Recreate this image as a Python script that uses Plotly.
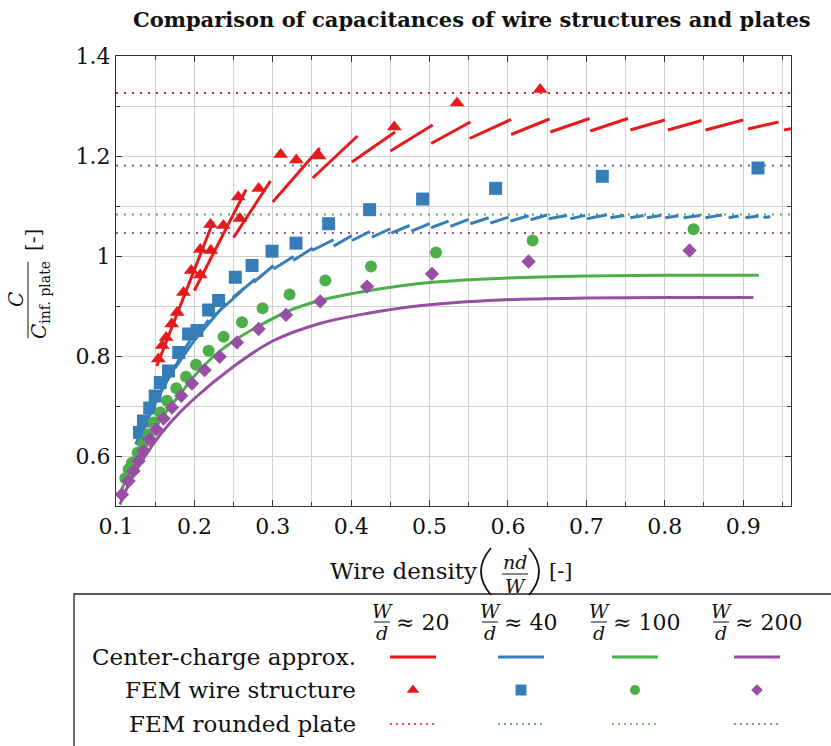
import plotly.graph_objects as go

W, H = 831, 746
FONT = "DejaVu Serif"

RED, BLUE, GREEN, PURPLE = "#e41a1c", "#377eb8", "#4daf4a", "#984ea3"

# ---------------- data ----------------
# FEM rounded plate (horizontal reference levels)
plate_levels = [1.326, 1.181, 1.083, 1.046]

# Center-charge approx, W/d ~ 20 : segments (start x, start y, end x, end y)
red_x0 = [0.152, 0.200, 0.250, 0.300, 0.351, 0.401, 0.450, 0.502, 0.551, 0.604, 0.654, 0.705, 0.756, 0.804, 0.852, 0.906, 0.952]
red_y0 = [0.780, 0.931, 1.037, 1.108, 1.156, 1.188, 1.210, 1.225, 1.235, 1.243, 1.248, 1.250, 1.252, 1.252, 1.252, 1.254, 1.252]
red_x1 = [0.224, 0.266, 0.297, 0.360, 0.408, 0.456, 0.504, 0.552, 0.604, 0.653, 0.704, 0.753, 0.800, 0.847, 0.900, 0.945, 0.990]
red_y1 = [1.069, 1.133, 1.150, 1.216, 1.240, 1.248, 1.262, 1.268, 1.273, 1.274, 1.275, 1.275, 1.272, 1.271, 1.272, 1.268, 1.262]

# Center-charge approx, W/d ~ 40 : segments
blue_x0 = [0.125, 0.150, 0.175, 0.200, 0.2225, 0.249, 0.2755, 0.301, 0.326, 0.350, 0.3776, 0.401, 0.4265, 0.451,
           0.4767, 0.5018, 0.5264, 0.552, 0.5774, 0.603, 0.6289, 0.6518, 0.6795, 0.7008, 0.7305, 0.756, 0.7773,
           0.8006, 0.824, 0.8517, 0.8814, 0.9027, 0.926]
blue_y0 = [0.623, 0.708, 0.775, 0.832, 0.877, 0.917, 0.9475, 0.974, 0.991, 1.011, 1.0197, 1.031, 1.0377, 1.0457,
           1.0497, 1.0565, 1.0592, 1.0646, 1.0658, 1.0698, 1.0726, 1.0746, 1.0746, 1.0746, 1.0766, 1.0766, 1.0766,
           1.0766, 1.0766, 1.0766, 1.0766, 1.0766, 1.0772]
blue_x1 = [0.170, 0.195, 0.218, 0.240, 0.261, 0.278, 0.301, 0.3265, 0.351, 0.3776, 0.401, 0.424, 0.450, 0.4745,
           0.500, 0.5243, 0.5498, 0.5753, 0.6008, 0.6263, 0.6497, 0.6752, 0.6986, 0.7263, 0.7483, 0.773, 0.7952,
           0.8176, 0.8453, 0.873, 0.8942, 0.9197, 0.9346]
blue_y1 = [0.770, 0.833, 0.872, 0.905, 0.931, 0.954, 0.981, 0.999, 1.016, 1.0325, 1.041, 1.049, 1.0545, 1.061,
           1.0646, 1.0698, 1.0732, 1.0766, 1.0779, 1.0806, 1.0819, 1.0812, 1.0812, 1.0826, 1.0812, 1.0812, 1.0812,
           1.0806, 1.0812, 1.0819, 1.0799, 1.0799, 1.0786]

# Center-charge approx, W/d ~ 100 and ~ 200 (visually continuous)
green_cc_x = [0.105, 0.12, 0.14, 0.16, 0.18, 0.20, 0.225, 0.25, 0.28, 0.32, 0.36, 0.42, 0.50, 0.60, 0.70, 0.80, 0.92]
green_cc_y = [0.525, 0.575, 0.630, 0.680, 0.720, 0.760, 0.800, 0.830, 0.858, 0.890, 0.911, 0.930, 0.947, 0.956, 0.960, 0.9615, 0.9615]
purple_cc_x = [0.105, 0.12, 0.148, 0.17, 0.20, 0.25, 0.30, 0.36, 0.42, 0.49, 0.59, 0.70, 0.80, 0.913]
purple_cc_y = [0.503, 0.555, 0.625, 0.668, 0.715, 0.779, 0.830, 0.865, 0.885, 0.901, 0.912, 0.916, 0.917, 0.917]

# FEM wire structure
red_fem_x = [0.154, 0.159, 0.164, 0.171, 0.178, 0.186, 0.196, 0.2075, 0.2205, 0.2075, 0.221, 0.237, 0.256, 0.258,
             0.282, 0.310, 0.330, 0.359, 0.455, 0.535, 0.641]
red_fem_y = [0.794, 0.821, 0.837, 0.864, 0.887, 0.927, 0.971, 1.013, 1.063, 0.962, 1.011, 1.061, 1.118, 1.075,
             1.135, 1.203, 1.192, 1.200, 1.258, 1.306, 1.333]
blue_fem_x = [0.130, 0.135, 0.143, 0.150, 0.1565, 0.167, 0.180, 0.1926, 0.2033, 0.2181, 0.2309, 0.2522, 0.2735,
              0.299, 0.3296, 0.3712, 0.4235, 0.4911, 0.5842, 0.7203, 0.9189]
blue_fem_y = [0.647, 0.670, 0.696, 0.720, 0.747, 0.770, 0.807, 0.844, 0.851, 0.892, 0.911, 0.9575, 0.981,
              1.0096, 1.0257, 1.0646, 1.0926, 1.1139, 1.1353, 1.1594, 1.176]
green_fem_x = [0.1119, 0.1161, 0.1204, 0.1276, 0.1344, 0.1416, 0.148, 0.1565, 0.165, 0.1769, 0.1893, 0.202, 0.2181,
               0.2373, 0.2607, 0.287, 0.3214, 0.367, 0.4252, 0.5082, 0.6314, 0.8367]
green_fem_y = [0.5553, 0.5733, 0.5866, 0.6066, 0.6247, 0.6435, 0.6668, 0.6868, 0.7103, 0.7357, 0.7584, 0.7825, 0.8105,
               0.8386, 0.8673, 0.8954, 0.9228, 0.951, 0.979, 1.007, 1.031, 1.0537]
purple_fem_x = [0.1076, 0.1161, 0.1224, 0.1288, 0.1352, 0.1429, 0.1514, 0.1607, 0.1714, 0.1833, 0.1969, 0.213, 0.2322,
                0.2543, 0.2819, 0.3168, 0.3606, 0.4202, 0.5031, 0.6263, 0.8316]
purple_fem_y = [0.523, 0.5499, 0.570, 0.590, 0.610, 0.6335, 0.6535, 0.6748, 0.6968, 0.7203, 0.745, 0.7718, 0.7985,
                0.8272, 0.854, 0.8821, 0.9094, 0.9388, 0.9643, 0.989, 1.011]

x_ticks = [0.1, 0.2, 0.3, 0.4, 0.5, 0.6, 0.7, 0.8, 0.9]
x_ticktext = ["0.1", "0.2", "0.3", "0.4", "0.5", "0.6", "0.7", "0.8", "0.9"]
y_ticks = [0.6, 0.8, 1.0, 1.2, 1.4]
y_ticktext = ["0.6", "0.8", "1", "1.2", "1.4"]
X_RANGE = [0.1, 0.961]
Y_RANGE = [0.5, 1.4]

ratios = ["20", "40", "100", "200"]
row_labels = ["Center-charge approx.", "FEM wire structure", "FEM rounded plate"]
colors = [RED, BLUE, GREEN, PURPLE]
symbols = ["triangle-up", "square", "circle", "diamond"]
msizes = [13, 13, 12, 11]

# ---------------- helpers ----------------
def px(x):
    return x / W

def py(y):
    return 1 - y / H

def segs(x0, y0, x1, y1):
    xs, ys = [], []
    for a, b, c, d in zip(x0, y0, x1, y1):
        xs += [a, c, None]
        ys += [b, d, None]
    return xs, ys

fig = go.Figure()

# plate reference lines
for lvl, c in zip(plate_levels, colors):
    fig.add_trace(go.Scatter(x=X_RANGE, y=[lvl, lvl], mode="lines",
                             line=dict(color=c, width=2, dash="2px,6px"), hoverinfo="skip"))

# center-charge approximations
rx, ry = segs(red_x0, red_y0, red_x1, red_y1)
bx, by = segs(blue_x0, blue_y0, blue_x1, blue_y1)
fig.add_trace(go.Scatter(x=rx, y=ry, mode="lines", line=dict(color=RED, width=3)))
fig.add_trace(go.Scatter(x=bx, y=by, mode="lines", line=dict(color=BLUE, width=3)))
fig.add_trace(go.Scatter(x=green_cc_x, y=green_cc_y, mode="lines", line=dict(color=GREEN, width=3, shape="spline")))
fig.add_trace(go.Scatter(x=purple_cc_x, y=purple_cc_y, mode="lines", line=dict(color=PURPLE, width=3, shape="spline")))

# FEM wire structure markers
for xs, ys, c, s, m in zip([red_fem_x, blue_fem_x, green_fem_x, purple_fem_x],
                           [red_fem_y, blue_fem_y, green_fem_y, purple_fem_y],
                           colors, symbols, msizes):
    fig.add_trace(go.Scatter(x=xs, y=ys, mode="markers",
                             marker=dict(color=c, symbol=s, size=m, line=dict(width=0))))

# ---------------- custom legend (drawn on a pixel-unit helper axis) ----------------
ROW_Y = [657, 690, 724]
COL_X = [413, 521, 635, 757]
HALF = 23
for c, s, m, cx in zip(colors, symbols, msizes, COL_X):
    fig.add_trace(go.Scatter(x=[cx - HALF, cx + HALF], y=[ROW_Y[0]] * 2, mode="lines",
                             line=dict(color=c, width=3), xaxis="x2", yaxis="y2"))
    fig.add_trace(go.Scatter(x=[cx], y=[ROW_Y[1]], mode="markers",
                             marker=dict(color=c, symbol=s, size=m - 2), xaxis="x2", yaxis="y2"))
    fig.add_trace(go.Scatter(x=[cx - HALF, cx + HALF], y=[ROW_Y[2]] * 2, mode="lines",
                             line=dict(color=c, width=1.6, dash="2px,4px"), xaxis="x2", yaxis="y2"))

annotations = []
shapes = []

def ann(x, y, text, size, xanchor="center", angle=0, family=FONT, color="#111"):
    annotations.append(dict(x=px(x), y=py(y), xref="paper", yref="paper", text=text, showarrow=False,
                            xanchor=xanchor, yanchor="middle", textangle=angle,
                            font=dict(family=family, size=size, color=color)))

def hline(x0, x1, y, w=1.2, color="#111"):
    shapes.append(dict(type="line", xref="paper", yref="paper", x0=px(x0), x1=px(x1), y0=py(y), y1=py(y),
                       line=dict(color=color, width=w)))

def paren(xe, xm, y0, y1, w=1.7, color="#111"):
    ym = (y0 + y1) / 2
    path = "M {:.5f},{:.5f} Q {:.5f},{:.5f} {:.5f},{:.5f}".format(px(xe), py(y0), px(xm), py(ym), px(xe), py(y1))
    shapes.append(dict(type="path", xref="paper", yref="paper", path=path, line=dict(color=color, width=w)))

# legend row labels
for lab, yy in zip(row_labels, ROW_Y):
    ann(358, yy, lab, 23, xanchor="right")

# legend column headers  W/d ~ N
FRAC_X = [382, 490, 599, 721]
for fx, r in zip(FRAC_X, ratios):
    ann(fx, 611, "<i>W</i>", 19)
    hline(fx - 8, fx + 8, 622, w=1)
    ann(fx, 633, "<i>d</i>", 19)
    ann(fx + 12, 622, "\u2248 " + r, 22, xanchor="left")

# legend frame
shapes.append(dict(type="rect", xref="paper", yref="paper", x0=px(74), x1=px(860), y0=py(770), y1=py(594),
                   line=dict(color="#222", width=1.3), fillcolor="rgba(0,0,0,0)"))

# title
ann(472, 19, "<b>Comparison of capacitances of wire structures and plates</b>", 21)

# x-axis title: Wire density (nd/W) [-]
ann(403, 571, "Wire density", 23)
paren(491, 471, 548, 595)
ann(515, 562, "<i>nd</i>", 19)
hline(502, 528, 574, w=1)
ann(515, 586, "<i>W</i>", 19)
paren(529, 549, 548, 595)
ann(560, 571, "[-]", 21)

# y-axis title: C / C_inf.plate [-]
ann(16, 300, "<i>C</i>", 20, angle=-90)
shapes.append(dict(type="line", xref="paper", yref="paper", x0=px(28), x1=px(28), y0=py(262), y1=py(338),
                   line=dict(color="#111", width=1)))
ann(40, 300, "<i>C</i><sub>inf. plate</sub>", 20, angle=-90)
ann(33, 240, "[-]", 20, angle=-90)

AXC = "#333"
GRID = "#d0d0d0"
fig.update_layout(
    width=W, height=H,
    margin=dict(l=0, r=0, t=0, b=0, autoexpand=False),
    paper_bgcolor="white", plot_bgcolor="rgba(0,0,0,0)",
    showlegend=False,
    font=dict(family=FONT, size=20, color="#111"),
    xaxis=dict(domain=[116 / W, 791 / W], range=X_RANGE, anchor="y", automargin=False,
               tickmode="array", tickvals=x_ticks, ticktext=x_ticktext,
               ticks="inside", ticklen=6, tickcolor=AXC, tickwidth=1,
               showline=True, linecolor=AXC, linewidth=1.3, mirror="allticks",
               showgrid=True, gridcolor=GRID, gridwidth=1, zeroline=False,
               tickfont=dict(family=FONT, size=22, color="#111"),
               minor=dict(dtick=0.05, tick0=0.1, ticks="inside", ticklen=4, tickcolor=AXC,
                          showgrid=True, gridcolor=GRID, gridwidth=1)),
    yaxis=dict(domain=[1 - 506 / H, 1 - 56 / H], range=Y_RANGE, anchor="x", automargin=False,
               tickmode="array", tickvals=y_ticks, ticktext=y_ticktext,
               ticks="inside", ticklen=6, tickcolor=AXC, tickwidth=1,
               showline=True, linecolor=AXC, linewidth=1.3, mirror="allticks",
               showgrid=True, gridcolor=GRID, gridwidth=1, zeroline=False,
               tickfont=dict(family=FONT, size=22, color="#111"),
               minor=dict(dtick=0.1, tick0=0.5, ticks="inside", ticklen=4, tickcolor=AXC,
                          showgrid=True, gridcolor=GRID, gridwidth=1)),
    xaxis2=dict(domain=[0, 1], range=[0, W], anchor="y2", visible=False, fixedrange=True, automargin=False),
    yaxis2=dict(domain=[0, 1 - 594 / H], range=[H, 594], anchor="x2", visible=False, fixedrange=True,
                automargin=False),
    annotations=annotations,
    shapes=shapes,
)

fig.write_html("out.html")
